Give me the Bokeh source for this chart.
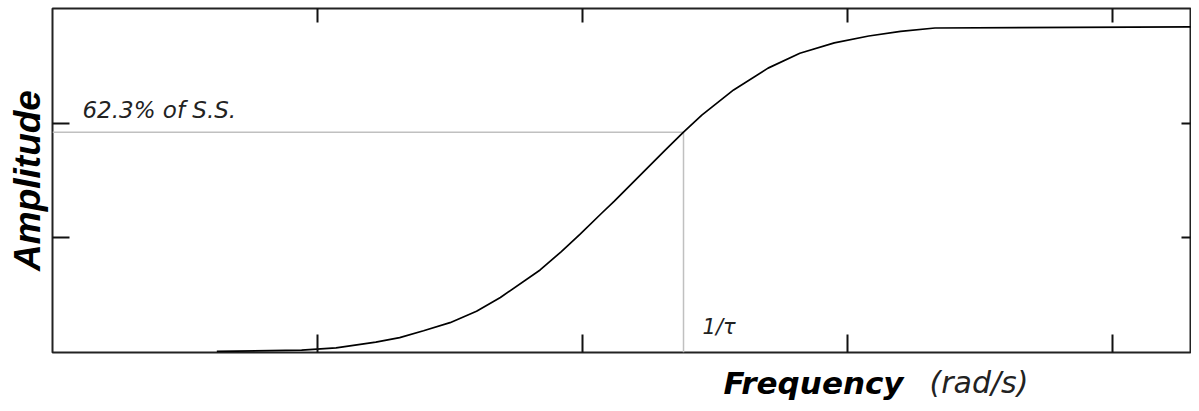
import math
from bokeh.plotting import figure
from bokeh.layouts import column
from bokeh.models import LinearAxis, FixedTicker, CustomJSTickFormatter, Label, Range1d
from bokeh.core.properties import value
from bokeh.embed import file_html
from bokeh.resources import INLINE

# ---- data (x in decades of frequency, y in amplitude tick units) ----
freq = [0.62, 0.94, 1.07, 1.22, 1.31, 1.40, 1.50, 1.60, 1.69, 1.84, 1.92, 1.99,
        2.07, 2.12, 2.31, 2.38, 2.45, 2.57, 2.70, 2.82, 2.95, 3.08, 3.20, 3.33, 4.30]
amp = [0.01, 0.02, 0.04, 0.09, 0.13, 0.19, 0.26, 0.36, 0.48, 0.72, 0.88, 1.03,
       1.21, 1.32, 1.76, 1.92, 2.07, 2.29, 2.48, 2.61, 2.70, 2.76, 2.80, 2.83, 2.84]
x_ticks = [1, 2, 3, 4]
y_ticks = [1, 2]
tau_freq = 2.381      # 1/tau
level_623 = 1.921     # 62.3% of steady state
x_title = ["Frequency", "(rad/s)"]

xr = Range1d(0, 4.294)
p = figure(width=1191, height=360, output_backend="svg", toolbar_location=None,
           x_range=xr, y_range=Range1d(0, 3),
           x_axis_location=None, y_axis_location=None,
           min_border_left=52, min_border_right=1, min_border_top=8,
           min_border_bottom=8)
p.grid.visible = False
p.outline_line_color = "#222222"
p.outline_line_width = 2
p.background_fill_color = "white"
p.border_fill_color = "white"

empty = CustomJSTickFormatter(code="return ''")

def mk_axis(ticks, tick_in, loc, label=None):
    ax = LinearAxis(ticker=FixedTicker(ticks=ticks), formatter=empty)
    ax.axis_line_color = None
    ax.major_tick_in = tick_in
    ax.major_tick_out = 0
    ax.minor_tick_line_color = None
    ax.major_tick_line_color = "#111111"
    ax.major_tick_line_width = 2
    ax.major_label_standoff = 0
    ax.major_label_text_font_size = "1px"
    if label:
        ax.axis_label = label
        ax.axis_label_text_font = "Liberation Sans"
        ax.axis_label_text_font_style = "bold italic"
        ax.axis_label_text_font_size = "37px"
        ax.axis_label_text_color = "black"
        ax.axis_label_standoff = 5
    p.add_layout(ax, loc)

mk_axis(x_ticks, 18, "below")
mk_axis(x_ticks, 14, "above")
mk_axis(y_ticks, 17, "left", label="Amplitude")
mk_axis(y_ticks, 9, "right")

# reference lines
p.line([0, tau_freq], [level_623, level_623], line_color="#c0c0c0", line_width=1.5)
p.line([tau_freq, tau_freq], [0, level_623], line_color="#c0c0c0", line_width=1.5)

# response curve
p.line(freq, amp, line_color="black", line_width=1.7)

# texts inside the plot
p.add_layout(Label(x=0.113, y=2.115, text="62.3% of S.S.", text_font="DejaVu Sans",
                   text_font_style="italic", text_font_size="23px", text_color="#222222",
                   text_baseline="alphabetic", text_align="left"))
p.add_layout(Label(x=2.453, y=0.226, text="1/τ", text_font="DejaVu Sans",
                   text_font_style="italic", text_font_size="21px", text_color="#222222",
                   text_baseline="alphabetic", text_align="left"))

# x-axis title strip (mixed styles)
s = figure(width=1191, height=43, output_backend="svg", toolbar_location=None,
           x_range=xr, y_range=Range1d(0, 43),
           x_axis_location=None, y_axis_location=None,
           min_border_left=52, min_border_right=1, min_border_top=0,
           min_border_bottom=0)
s.grid.visible = False
s.outline_line_color = None
s.text(x=[2.532], y=[21], text=[x_title[0]], text_font=value("DejaVu Sans"),
       text_font_style="bold italic", text_font_size="31px", text_color="black",
       text_baseline="alphabetic", text_align="left")
s.text(x=[3.309], y=[21], text=[x_title[1]], text_font=value("DejaVu Sans"),
       text_font_style="italic", text_font_size="30px", text_color="#222222",
       text_baseline="alphabetic", text_align="left")

layout = column(p, s, spacing=0)
open("out.html", "w").write(file_html(layout, INLINE))
